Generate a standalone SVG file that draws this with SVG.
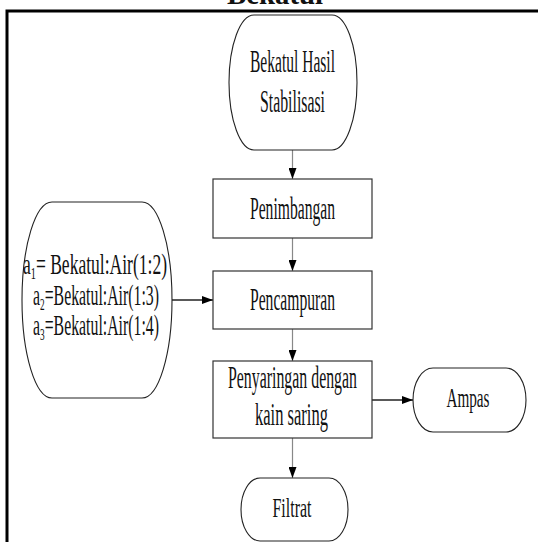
<svg xmlns="http://www.w3.org/2000/svg" width="538" height="542" viewBox="0 0 538 542">
  <style>
    .t { font-family: "Liberation Serif", "Times New Roman", serif; fill: #111; text-anchor: middle; }
    .box { fill: #fff; stroke: #333; stroke-width: 1.2; }
    .term { fill: #fff; stroke: #222; stroke-width: 1.1; }
    .vline { stroke: #888; stroke-width: 1.2; fill: none; }
    .hline { stroke: #222; stroke-width: 1.4; fill: none; }
    .frame { stroke: #000; stroke-width: 3; fill: none; }
  </style>
  <defs>
    <marker id="arrow" markerUnits="userSpaceOnUse" markerWidth="11" markerHeight="8" refX="11" refY="4" orient="auto">
      <path d="M0,0 L11,4 L0,8 Z" fill="#000"/>
    </marker>
  </defs>
  <rect x="0" y="0" width="538" height="542" fill="#fff"/>

  <text class="t" x="275" y="4" font-size="30" font-weight="bold" textLength="96" lengthAdjust="spacingAndGlyphs">Bekatul</text>
  <path class="frame" d="M7,542 V11 H540"/>

  <g id="connectors">
    <line class="vline" x1="292.5" y1="150" x2="292.5" y2="179" marker-end="url(#arrow)"/>
    <line class="vline" x1="292.5" y1="238" x2="292.5" y2="271" marker-end="url(#arrow)"/>
    <line class="vline" x1="292.5" y1="329" x2="292.5" y2="361" marker-end="url(#arrow)"/>
    <line class="vline" x1="292.5" y1="438" x2="292.5" y2="478" marker-end="url(#arrow)"/>
    <line class="hline" x1="172" y1="300" x2="213" y2="300" marker-end="url(#arrow)"/>
    <line class="hline" x1="372" y1="400" x2="413" y2="400" marker-end="url(#arrow)"/>
  </g>

  <g id="start">
    <path class="term" d="M254,15 H332 A25,67.5 0 0 1 357,82.5 A25,67.5 0 0 1 332,150 H254 A25,67.5 0 0 1 229,82.5 A25,67.5 0 0 1 254,15 Z"/>
    <text class="t" x="292.5" y="72" font-size="32" textLength="85" lengthAdjust="spacingAndGlyphs">Bekatul Hasil</text>
    <text class="t" x="292.5" y="112" font-size="32" textLength="65" lengthAdjust="spacingAndGlyphs">Stabilisasi</text>
  </g>

  <g id="penimbangan">
    <rect class="box" x="213" y="179" width="159" height="59"/>
    <text class="t" x="292.5" y="219" font-size="32" textLength="85" lengthAdjust="spacingAndGlyphs">Penimbangan</text>
  </g>

  <g id="pencampuran">
    <rect class="box" x="213" y="271" width="159" height="58"/>
    <text class="t" x="292.5" y="310" font-size="32" textLength="85" lengthAdjust="spacingAndGlyphs">Pencampuran</text>
  </g>

  <g id="penyaringan">
    <rect class="box" x="213" y="361" width="159" height="77"/>
    <text class="t" x="292.5" y="388" font-size="32" textLength="129" lengthAdjust="spacingAndGlyphs">Penyaringan dengan</text>
    <text class="t" x="291.5" y="425" font-size="32" textLength="73" lengthAdjust="spacingAndGlyphs">kain saring</text>
  </g>

  <g id="ratio">
    <path class="term" d="M52,202 H142 A30,98 0 0 1 172,300 A30,98 0 0 1 142,398 H52 A30,98 0 0 1 22,300 A30,98 0 0 1 52,202 Z"/>
    <text class="t" x="95" y="274" font-size="29" textLength="144" lengthAdjust="spacingAndGlyphs">a<tspan font-size="17" dy="5">1</tspan><tspan dy="-5">= Bekatul:Air(1:2)</tspan></text>
    <text class="t" x="96" y="305" font-size="29" textLength="126" lengthAdjust="spacingAndGlyphs">a<tspan font-size="17" dy="5">2</tspan><tspan dy="-5">=Bekatul:Air(1:3)</tspan></text>
    <text class="t" x="96" y="335" font-size="29" textLength="126" lengthAdjust="spacingAndGlyphs">a<tspan font-size="17" dy="5">3</tspan><tspan dy="-5">=Bekatul:Air(1:4)</tspan></text>
  </g>

  <g id="ampas">
    <path class="term" d="M433,368 H506 A20,32 0 0 1 526,400 A20,32 0 0 1 506,432 H433 A20,32 0 0 1 413,400 A20,32 0 0 1 433,368 Z"/>
    <text class="t" x="468" y="407" font-size="27" textLength="43" lengthAdjust="spacingAndGlyphs">Ampas</text>
  </g>

  <g id="filtrat">
    <path class="term" d="M260,478 H329 A19,31.5 0 0 1 348,509.5 A19,31.5 0 0 1 329,541 H260 A19,31.5 0 0 1 241,509.5 A19,31.5 0 0 1 260,478 Z"/>
    <text class="t" x="292" y="517" font-size="27" textLength="39" lengthAdjust="spacingAndGlyphs">Filtrat</text>
  </g>
</svg>
